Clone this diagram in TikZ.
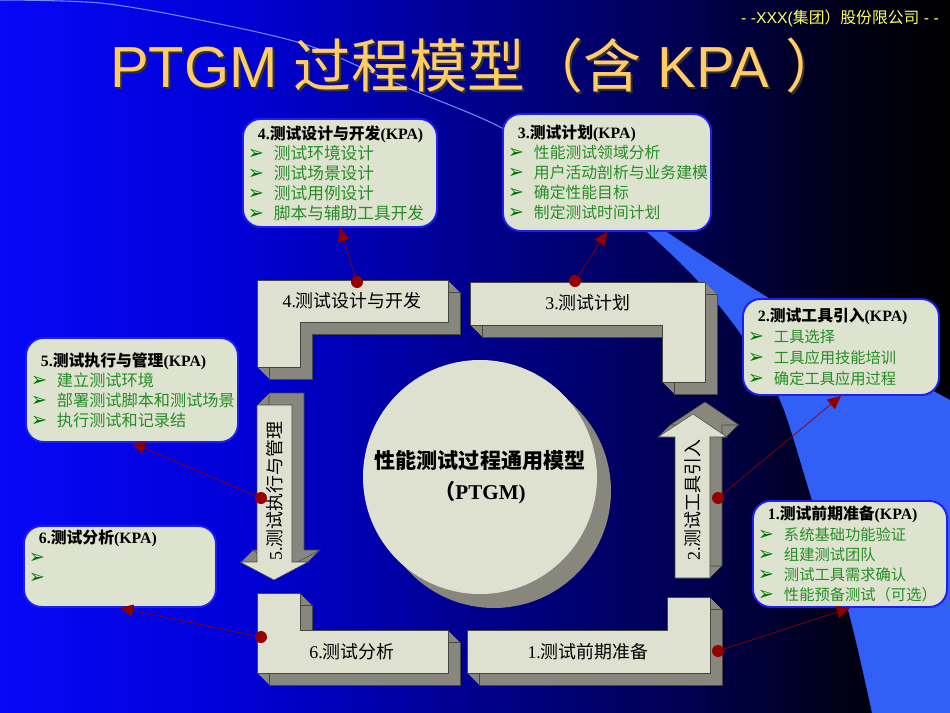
\documentclass[tikz,border=0pt]{standalone}
\usepackage{fontspec}
\setmainfont{Liberation Serif}
\newfontfamily\cjk{Noto Sans CJK SC}
\newfontfamily\arial{Liberation Sans}
\newfontfamily\dejavu{DejaVu Sans}
\usetikzlibrary{arrows.meta}

\definecolor{kpafill}{RGB}{221,227,206}
\definecolor{kpaline}{RGB}{30,30,240}
\definecolor{itemgreen}{RGB}{40,140,40}
\definecolor{bulletgreen}{RGB}{0,120,0}
\definecolor{blockfill}{RGB}{222,225,208}
\definecolor{sidegray}{RGB}{135,135,125}
\definecolor{edgegray}{RGB}{70,70,65}
\definecolor{dotred}{RGB}{150,0,0}
\definecolor{linkred}{RGB}{140,0,0}
\definecolor{titleorange}{RGB}{255,204,102}
\definecolor{companyyellow}{RGB}{255,255,100}
\definecolor{bandblue}{RGB}{50,95,245}
\definecolor{arcline}{RGB}{110,140,255}

\pgfdeclarehorizontalshading{slidebg}{100bp}{rgb(0bp)=(0.03,0.03,0.97); rgb(25bp)=(0.03,0.03,0.97);
  rgb(37.6bp)=(0,0,0.84); rgb(50bp)=(0,0,0.55); rgb(61.8bp)=(0,0,0.3); rgb(69.7bp)=(0,0,0.08);
  rgb(75bp)=(0,0,0); rgb(100bp)=(0,0,0)}

\newlength{\pxunit}\setlength{\pxunit}{0.02cm}
\newcommand{\kpatitle}[2]{\hspace*{10\pxunit}{\fontsize{9}{11.4}\selectfont\bfseries #1{\cjk\bfseries #2}(KPA)}}
\newcommand{\kpaitem}[1]{\makebox[26\pxunit][l]{\color{bulletgreen}\dejavu\fontsize{11}{11.4}\selectfont ➢}{\cjk\color{itemgreen}#1}}

\begin{document}
\begin{tikzpicture}[x=0.02cm,y=-0.02cm,
  kpa/.style={draw=kpaline,line width=1.1pt,fill=kpafill,rounded corners=10pt,anchor=north west,
    align=left,inner xsep=5\pxunit,inner ysep=0pt,font=\fontsize{9.2}{11.4}\selectfont},
  blocklabel/.style={font=\fontsize{10.2}{12}\selectfont,inner sep=1pt},
  blockside/.style={fill=sidegray},
  blockedge/.style={draw=edgegray,line width=0.3pt},
  blockfront/.style={fill=blockfill,draw=edgegray,line width=0.3pt},
  reddot/.style={circle,fill=dotred,inner sep=0pt,minimum size=12\pxunit},
  kpalink/.style={-{Triangle[length=7.5pt,width=7pt]},draw=linkred,line width=0.4pt},
  b4/.style={insert path={(257,280) -- (448,280) -- (448,322) -- (300,322) -- (300,367) -- (257,367) -- cycle}},
  b3/.style={insert path={(470,282) -- (705,282) -- (705,382) -- (662,382) -- (662,325) -- (470,325) -- cycle}},
  b1/.style={insert path={(467,630) -- (667,630) -- (667,597) -- (710,597) -- (710,673) -- (467,673) -- cycle}},
  b6/.style={insert path={(257,593) -- (300,593) -- (300,630) -- (448,630) -- (448,673) -- (257,673) -- cycle}},
  b5/.style={insert path={(257,405) -- (292,405) -- (292,562) -- (308,562) -- (274,580) -- (240,562) -- (257,562) -- cycle}},
  b2/.style={insert path={(675,578) -- (675,437) -- (658,437) -- (693,414) -- (727,437) -- (710,437) -- (710,578) -- cycle}}]

  \useasboundingbox (0,0) rectangle (950,713);
  \shade[shading=slidebg] (0,0) rectangle (950,713);

  % background band and arc
  \fill[bandblue] plot[smooth] coordinates {(600,197) (647,232) (697,280) (740,333) (780,400) (812,500) (848,610) (872,713)}
    -- (950,713) -- (950,400)
    -- plot[smooth] coordinates {(950,400) (850,345) (767,297) (700,254) (640,215) (600,197)} -- cycle;
  \draw[arcline,line width=0.6pt] plot[smooth] coordinates {(0,0) (100,3) (200,20) (307,45) (400,85) (500,127) (575,178) (647,232)};

  \node[anchor=base,text=black!80,font=\fontsize{33}{38}\selectfont] (titleback) at (479,90)
    {{\arial PTGM }{\cjk 过程模型（含}{\arial\ KPA }{\cjk ）}};
  \node[anchor=base,text=titleorange,font=\fontsize{33}{38}\selectfont] (title) at (477,88)
    {{\arial PTGM }{\cjk 过程模型（含}{\arial\ KPA }{\cjk ）}};
  \node[anchor=base east,text=companyyellow,font=\fontsize{9}{10}\selectfont] (company) at (945,24)
    {{\arial - -XXX(}{\cjk 集团）股份限公司}{\arial\ - -}};

  % model circle
  \node[circle,fill=sidegray,inner sep=0pt,minimum size=234\pxunit] (coreshadow) at (494,491) {};
  \node[circle,fill=blockfill,inner sep=0pt,minimum size=234\pxunit,align=center,
    font=\fontsize{12}{17.6}\selectfont\bfseries] (core) at (480,477)
    {{\cjk 性能测试过程通用模型}\\{\cjk （}PTGM)};

  % process blocks
  \foreach \blk in {b4,b3,b1,b6} {
    \foreach \dd in {1,...,12} \fill[blockside,shift={(\dd,\dd)},\blk];
    \draw[blockedge,shift={(12,12)},\blk];
    \filldraw[blockfront,\blk];
  }
  \foreach \blk in {b5,b2} {
    \foreach \dd in {1,...,12} \fill[blockside,shift={(\dd,-\dd)},\blk];
    \draw[blockedge,shift={(12,-12)},\blk];
    \filldraw[blockfront,\blk];
  }

  \node[blocklabel] (lab4) at (352,301) {4.{\cjk 测试设计与开发}};
  \node[blocklabel] (lab3) at (588,303) {3.{\cjk 测试计划}};
  \node[blocklabel] (lab1) at (588,652) {1.{\cjk 测试前期准备}};
  \node[blocklabel] (lab6) at (352,652) {6.{\cjk 测试分析}};
  \node[blocklabel,rotate=90] (lab5) at (275,491) {5.{\cjk 测试执行与管理}};
  \node[blocklabel,rotate=90] (lab2) at (693,500) {2.{\cjk 测试工具引入}};

  % KPA boxes
  \node[kpa,text width=184\pxunit,minimum height=108\pxunit,font=\fontsize{9.5}{11.4}\selectfont] (kpa4) at (242,118)
    {\kpatitle{4.}{测试设计与开发}\\
     \kpaitem{测试环境设计}\\
     \kpaitem{测试场景设计}\\
     \kpaitem{测试用例设计}\\
     \kpaitem{脚本与辅助工具开发}};
  \node[kpa,text width=198\pxunit,minimum height=117\pxunit,font=\fontsize{9}{11.4}\selectfont] (kpa3) at (502,113)
    {\kpatitle{3.}{测试计划}\\
     \kpaitem{性能测试领域分析}\\
     \kpaitem{用户活动剖析与业务建模}\\
     \kpaitem{确定性能目标}\\
     \kpaitem{制定测试时间计划}};
  \node[kpa,text width=186\pxunit,minimum height=96\pxunit,font=\fontsize{8.7}{12}\selectfont] (kpa2) at (742,298)
    {\kpatitle{2.}{测试工具引入}\\
     \kpaitem{工具选择}\\
     \kpaitem{工具应用技能培训}\\
     \kpaitem{确定工具应用过程}};
  \node[kpa,text width=184\pxunit,minimum height=106\pxunit,font=\fontsize{8.7}{11.4}\selectfont] (kpa1) at (752,500)
    {\kpatitle{1.}{测试前期准备}\\
     \kpaitem{系统基础功能验证}\\
     \kpaitem{组建测试团队}\\
     \kpaitem{测试工具需求确认}\\
     \kpaitem{性能预备测试（可选）}};
  \node[kpa,text width=202\pxunit,minimum height=104\pxunit] (kpa5) at (25,337)
    {\kpatitle{5.}{测试执行与管理}\\
     \kpaitem{建立测试环境}\\
     \kpaitem{部署测试脚本和测试场景}\\
     \kpaitem{执行测试和记录结}};
  \node[kpa,text width=182\pxunit,minimum height=81\pxunit] (kpa6) at (23,525)
    {\kpatitle{6.}{测试分析}\\
     \kpaitem{}\\
     \kpaitem{}\\
     \mbox{}};

  % links
  \node[reddot] (d4) at (357,282) {};
  \node[reddot] (d3) at (575,281) {};
  \node[reddot] (d2) at (718,498) {};
  \node[reddot] (d1) at (718,651) {};
  \node[reddot] (d5) at (261,498) {};
  \node[reddot] (d6) at (261,637) {};
  \draw[kpalink] (d4.center) -- (kpa4.south);
  \draw[kpalink] (d3.center) -- (kpa3.south);
  \draw[kpalink] (d2.center) -- (kpa2.south);
  \draw[kpalink] (d1.center) -- (kpa1.south);
  \draw[kpalink] (d5.center) -- (kpa5.south);
  \draw[kpalink] (d6.center) -- (kpa6.south);
\end{tikzpicture}
\end{document}
